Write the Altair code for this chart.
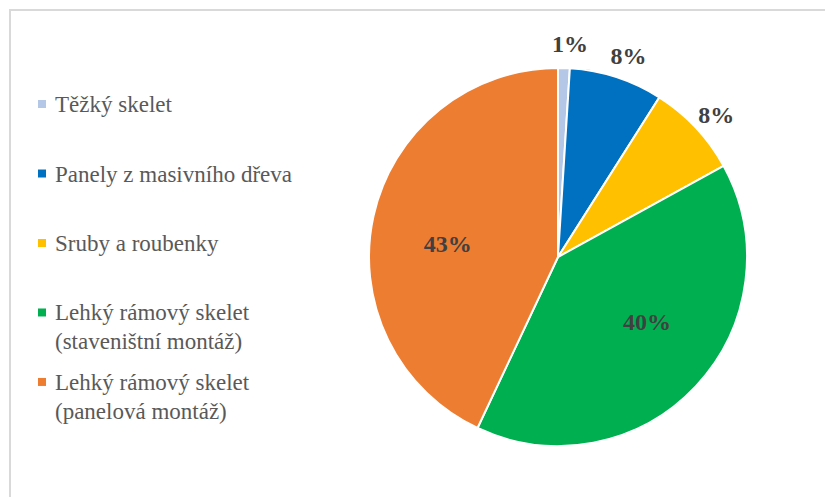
import altair as alt
import pandas as pd

categories = [
    "Těžký skelet",
    "Panely z masivního dřeva",
    "Sruby a roubenky",
    "Lehký rámový skelet\n(staveništní montáž)",
    "Lehký rámový skelet\n(panelová montáž)",
]
values = [1, 8, 8, 40, 43]
labels = ["1%", "8%", "8%", "40%", "43%"]
colors = ["#B4C7E7", "#0070C0", "#FFC000", "#00B050", "#ED7D31"]

df = pd.DataFrame({
    "cat": categories,
    "v": values,
    "lab": labels,
    "idx": list(range(len(categories))),
})

SERIF = "Liberation Serif"
color_scale = alt.Scale(domain=categories, range=colors)

arcs = alt.Chart(df).mark_arc(stroke="white", strokeWidth=2).encode(
    theta=alt.Theta("v:Q", stack=True),
    order=alt.Order("idx:Q", sort="ascending"),
    color=alt.Color("cat:N", scale=color_scale, legend=None),
)

# label placement: outside for small slices, inside (best-fit like) for large ones
text = alt.Chart(df).transform_window(
    cum="sum(v)", sort=[alt.SortField("idx")], frame=[None, 0]
).transform_calculate(
    mid="datum.v < 10 ? datum.cum - datum.v / 2 + 0.4 : datum.cum - datum.v / 2 - 1.8",
    r="datum.v < 10 ? 212 : 111",
).mark_text(
    font=SERIF, fontSize=24, fontWeight="bold", color="#404040"
).encode(
    theta=alt.Theta("mid:Q", stack=None),
    radius=alt.Radius("r:Q", scale=None),
    text="lab:N",
)

legend_y = alt.Y(
    "cat:N", sort=categories, axis=None,
    scale=alt.Scale(type="point", domain=categories, padding=0.72, align=0.36),
)

leg_sym = alt.Chart(df).mark_square(size=64, opacity=1).encode(
    x=alt.value(-327),
    y=legend_y,
    color=alt.Color("cat:N", scale=color_scale, legend=None),
)

leg_txt = alt.Chart(df).mark_text(
    font=SERIF, fontSize=23, color="#595959", align="left",
    baseline="alphabetic", lineBreak="\n", lineHeight=29, dy=8,
).encode(
    x=alt.value(-314),
    y=legend_y,
    text="cat:N",
)

frame = alt.Chart(pd.DataFrame({"a": [0]})).mark_rect(
    fill=None, stroke="#d9d9d9", strokeWidth=2
).encode(
    x=alt.value(-359), x2=alt.value(480),
    y=alt.value(-58), y2=alt.value(450),
)

chart = alt.layer(frame, arcs, text, leg_sym, leg_txt).properties(
    width=378,
    height=378,
    autosize=alt.AutoSizeParams(type="none"),
    padding={"left": 369, "top": 68, "right": 78, "bottom": 51},
).configure(
    background="white",
).configure_view(
    stroke="transparent", strokeWidth=0
)

chart.save("out.html", embed_options={"renderer": "svg", "actions": False})
